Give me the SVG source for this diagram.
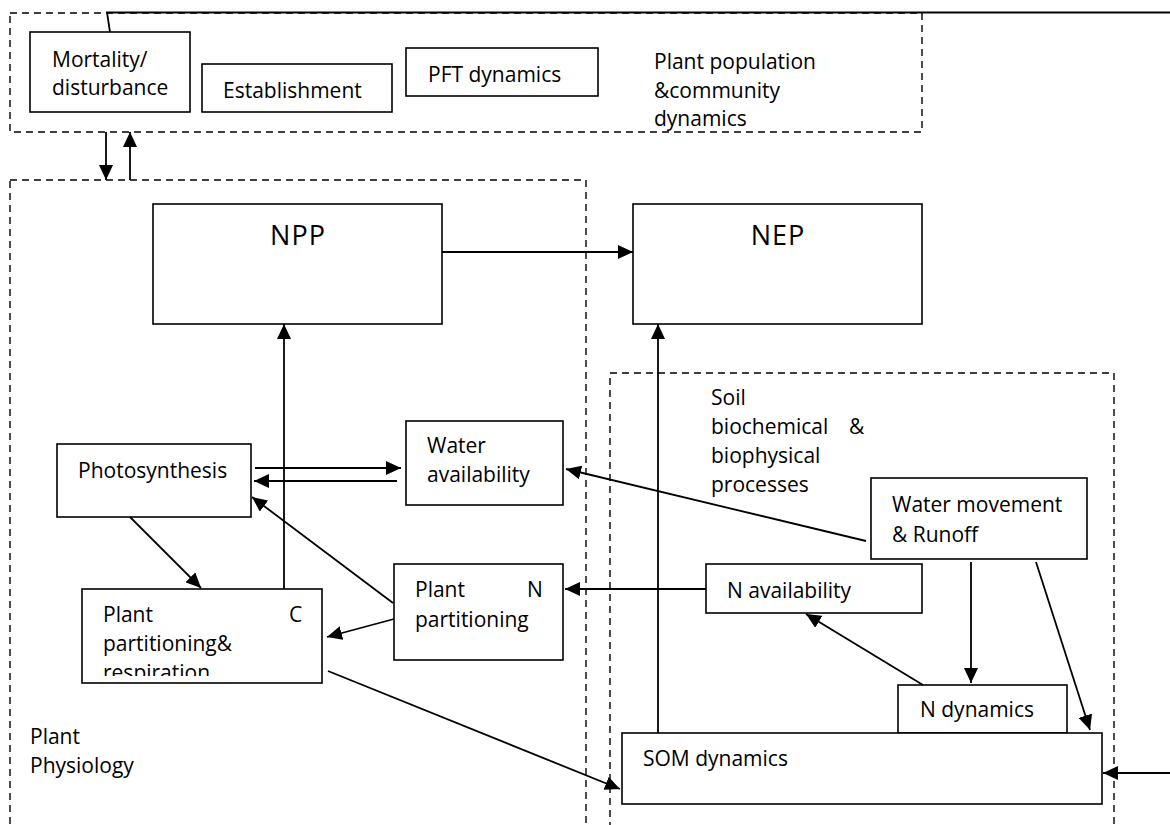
<svg xmlns="http://www.w3.org/2000/svg" width="1170" height="825" viewBox="0 0 1170 825">
<style>
.bg{fill:#ffffff}
.cont{fill:none;stroke:#000;stroke-width:1.4;stroke-dasharray:7 5}
.box{fill:#ffffff;stroke:#000;stroke-width:1.6}
.t{font-family:"Open Sans","Liberation Sans",sans-serif;font-size:21px;fill:#000}
.big{font-family:"Open Sans","Liberation Sans",sans-serif;font-size:27px;fill:#000;text-anchor:middle;letter-spacing:1px}
.c{fill:none;stroke:#000;stroke-width:1.8}
.ca{fill:none;stroke:#000;stroke-width:1.8;marker-end:url(#ah)}
</style>
<defs>
<marker id="ah" markerUnits="userSpaceOnUse" markerWidth="16" markerHeight="14" refX="15" refY="7" orient="auto">
<path d="M0,0 L15,7 L0,14 z" fill="#000"/>
</marker>
<clipPath id="clipC"><rect x="82" y="589" width="240" height="87"/></clipPath>
</defs>
<rect class="bg" x="0" y="0" width="1170" height="825"/>

<g id="containers">
<g id="population-container">
<rect class="cont" x="10" y="13" width="912" height="119"/>
<text class="t" x="654" y="69">Plant population</text>
<text class="t" x="654" y="98">&amp;community</text>
<text class="t" x="654" y="126">dynamics</text>
</g>
<g id="physiology-container">
<rect class="cont" x="10" y="180" width="576" height="670"/>
<text class="t" x="30" y="744">Plant</text>
<text class="t" x="30" y="773">Physiology</text>
</g>
<g id="soil-container">
<rect class="cont" x="610" y="373" width="504" height="480"/>
<text class="t" x="711" y="405">Soil</text>
<text class="t" x="711" y="434">biochemical</text>
<text class="t" x="849" y="434">&amp;</text>
<text class="t" x="711" y="463">biophysical</text>
<text class="t" x="711" y="492">processes</text>
</g>
</g>

<g id="mortality">
<rect class="box" x="30" y="32" width="160" height="80"/>
<text class="t" x="52" y="67">Mortality/</text>
<text class="t" x="52" y="95">disturbance</text>
</g>
<g id="establishment">
<rect class="box" x="202" y="64" width="190" height="48"/>
<text class="t" x="223" y="98">Establishment</text>
</g>
<g id="pft">
<rect class="box" x="406" y="48" width="192" height="48"/>
<text class="t" x="428" y="82">PFT dynamics</text>
</g>
<g id="npp">
<rect class="box" x="153" y="204" width="289" height="120"/>
<text class="big" x="298" y="245">NPP</text>
</g>
<g id="nep">
<rect class="box" x="633" y="204" width="289" height="120"/>
<text class="big" x="778" y="245">NEP</text>
</g>
<g id="photosynthesis">
<rect class="box" x="57" y="444" width="194" height="73"/>
<text class="t" x="78" y="478">Photosynthesis</text>
</g>
<g id="water-availability">
<rect class="box" x="406" y="421" width="157" height="84"/>
<text class="t" x="427" y="453">Water</text>
<text class="t" x="427" y="482">availability</text>
</g>
<g id="plant-c">
<rect class="box" x="82" y="589" width="240" height="94"/>
<g clip-path="url(#clipC)">
<text class="t" x="103" y="622">Plant</text>
<text class="t" x="289" y="622">C</text>
<text class="t" x="103" y="651">partitioning&amp;</text>
<text class="t" x="103" y="680">respiration</text>
</g>
</g>
<g id="plant-n">
<rect class="box" x="394" y="564" width="169" height="96"/>
<text class="t" x="415" y="597">Plant</text>
<text class="t" x="527" y="597">N</text>
<text class="t" x="415" y="627">partitioning</text>
</g>
<g id="water-movement">
<rect class="box" x="871" y="478" width="216" height="81"/>
<text class="t" x="892" y="512">Water movement</text>
<text class="t" x="892" y="542">&amp; Runoff</text>
</g>
<g id="n-availability">
<rect class="box" x="706" y="564" width="216" height="49"/>
<text class="t" x="727" y="598">N availability</text>
</g>
<g id="n-dynamics">
<rect class="box" x="898" y="685" width="169" height="48"/>
<text class="t" x="920" y="717">N dynamics</text>
</g>
<g id="som">
<rect class="box" x="622" y="733" width="480" height="71"/>
<text class="t" x="643" y="766">SOM dynamics</text>
</g>

<g id="connectors">
<polyline class="c" points="1170,12.5 107,12.5 110,32"/>
<line class="ca" x1="106" y1="132" x2="106" y2="180"/>
<line class="ca" x1="130" y1="180" x2="130" y2="132"/>
<line class="ca" x1="442" y1="252" x2="633" y2="252"/>
<line class="ca" x1="284" y1="589" x2="284" y2="324"/>
<line class="ca" x1="658" y1="733" x2="658" y2="324"/>
<line class="ca" x1="255" y1="468" x2="401" y2="468"/>
<line class="ca" x1="397" y1="481" x2="254" y2="481"/>
<line class="ca" x1="866" y1="541" x2="566" y2="469"/>
<line class="ca" x1="393" y1="603" x2="252" y2="497"/>
<line class="ca" x1="130" y1="517" x2="201" y2="588"/>
<line class="ca" x1="394" y1="619" x2="327" y2="637"/>
<line class="ca" x1="706" y1="589" x2="565" y2="589"/>
<line class="ca" x1="923" y1="685" x2="806" y2="614"/>
<line class="ca" x1="971" y1="562" x2="971" y2="683"/>
<line class="ca" x1="1036" y1="562" x2="1090" y2="730"/>
<line class="ca" x1="1170" y1="773" x2="1103" y2="773"/>
<line class="ca" x1="328" y1="671" x2="620" y2="789"/>
</g>
</svg>
